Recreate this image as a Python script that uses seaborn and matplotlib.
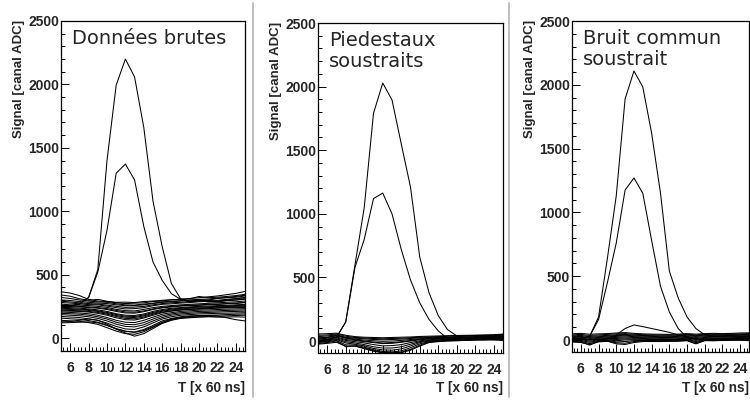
import numpy as np
import pandas as pd
import seaborn as sns
import matplotlib.pyplot as plt
from matplotlib.lines import Line2D
from matplotlib.ticker import MultipleLocator

# time samples [x 60 ns]
T = list(range(5, 26))

# --- Données brutes (raw) ---
raw_sig_a = [260, 255, 270, 320, 540, 1400, 1995, 2200, 2058, 1660, 1080, 720, 430, 310, 290, 300, 290, 290, 300, 310, 320]
raw_sig_b = [250, 250, 265, 320, 520, 850, 1300, 1372, 1246, 880, 600, 455, 350, 305, 285, 295, 285, 285, 295, 300, 310]
raw_noise = [
    [365, 355, 335, 305, 292, 288, 282, 283, 280, 288, 292, 298, 302, 306, 312, 318, 325, 332, 342, 352, 368],
    [340, 330, 310, 298, 305, 290, 278, 272, 275, 278, 288, 292, 302, 305, 310, 328, 318, 322, 328, 335, 345],
    [320, 312, 300, 292, 285, 282, 270, 262, 260, 268, 275, 285, 290, 295, 300, 305, 308, 315, 320, 328, 338],
    [300, 296, 288, 282, 276, 272, 262, 255, 256, 262, 272, 282, 286, 292, 298, 302, 300, 312, 318, 322, 332],
    [290, 285, 278, 272, 268, 260, 250, 242, 244, 250, 262, 272, 278, 282, 288, 292, 296, 298, 305, 312, 318],
    [280, 276, 270, 264, 262, 252, 240, 230, 232, 240, 255, 266, 270, 276, 280, 286, 290, 290, 296, 300, 306],
    [268, 262, 260, 256, 250, 242, 226, 216, 214, 226, 240, 250, 256, 262, 266, 270, 274, 278, 282, 286, 292],
    [258, 255, 250, 246, 240, 232, 218, 206, 204, 214, 230, 242, 250, 255, 260, 262, 266, 268, 272, 276, 282],
    [250, 248, 245, 240, 235, 225, 210, 198, 196, 208, 225, 238, 245, 252, 256, 258, 262, 265, 270, 272, 280],
    [242, 240, 236, 230, 222, 210, 192, 180, 178, 190, 210, 225, 235, 240, 246, 250, 252, 256, 258, 262, 266],
    [235, 232, 228, 224, 215, 202, 186, 172, 170, 182, 202, 218, 228, 235, 240, 244, 246, 250, 252, 256, 260],
    [228, 226, 222, 218, 210, 195, 178, 165, 162, 175, 195, 212, 222, 230, 235, 238, 240, 245, 248, 250, 255],
    [220, 218, 215, 210, 202, 188, 170, 155, 152, 166, 188, 205, 215, 224, 228, 232, 236, 240, 242, 245, 248],
    [214, 212, 210, 205, 195, 180, 160, 145, 142, 158, 180, 200, 212, 220, 225, 228, 232, 235, 238, 240, 242],
    [206, 202, 198, 192, 180, 162, 140, 125, 122, 140, 165, 188, 200, 210, 215, 220, 222, 225, 228, 230, 232],
    [196, 192, 188, 180, 168, 150, 125, 108, 105, 122, 150, 175, 190, 200, 205, 210, 212, 215, 218, 220, 222],
    [185, 180, 176, 168, 155, 135, 110, 92, 88, 105, 135, 162, 180, 190, 195, 200, 202, 205, 208, 210, 212],
    [170, 166, 162, 152, 140, 118, 92, 72, 68, 88, 120, 150, 168, 180, 185, 190, 192, 195, 196, 198, 200],
    [158, 152, 148, 138, 125, 100, 72, 52, 48, 68, 100, 135, 155, 168, 175, 178, 180, 182, 185, 188, 190],
    [140, 136, 132, 122, 108, 82, 55, 35, 30, 50, 85, 120, 145, 158, 165, 168, 170, 172, 175, 178, 180],
    [128, 130, 140, 150, 140, 110, 70, 40, 15, 35, 75, 115, 140, 155, 160, 165, 168, 165, 165, 168, 165],
    [120, 122, 125, 128, 120, 100, 75, 55, 45, 60, 90, 125, 150, 162, 170, 175, 178, 175, 160, 145, 135],
]

# --- Piedestaux soustraits ---
ped_sig_a = [0, 10, 30, 150, 600, 1050, 1790, 2028, 1895, 1550, 1210, 660, 380, 200, 90, 40, 25, 25, 25, 30, 30]
ped_sig_b = [0, 10, 30, 150, 580, 800, 1120, 1163, 1000, 720, 480, 300, 170, 80, 20, 5, 5, 10, 10, 15, 15]
ped_noise = [
    [55, 58, 62, 45, 35, 30, 28, 26, 28, 30, 32, 36, 38, 40, 42, 44, 45, 46, 48, 50, 55],
    [45, 48, 55, 38, 28, 24, 20, 18, 20, 22, 26, 30, 32, 35, 38, 40, 42, 44, 45, 46, 50],
    [35, 40, 48, 30, 22, 18, 12, 10, 12, 15, 20, 25, 28, 30, 32, 35, 38, 40, 42, 42, 45],
    [25, 30, 40, 22, 15, 8, 2, -2, 0, 5, 12, 18, 22, 25, 28, 30, 32, 35, 36, 38, 40],
    [15, 22, 32, 12, 5, -5, -12, -20, -18, -10, 0, 10, 15, 20, 22, 25, 28, 30, 32, 34, 35],
    [8, 15, 25, 5, -5, -15, -28, -38, -36, -28, -12, 2, 10, 15, 18, 20, 22, 25, 28, 30, 30],
    [0, 8, 18, -5, -15, -28, -45, -55, -55, -45, -25, -5, 5, 10, 12, 15, 18, 20, 22, 25, 25],
    [-5, 2, 12, -15, -25, -38, -58, -70, -72, -62, -38, -12, 0, 5, 8, 12, 14, 16, 18, 20, 20],
    [-12, -5, 5, -30, -32, -48, -68, -82, -85, -78, -52, -22, -5, 2, 5, 8, 10, 12, 15, 16, 15],
    [-20, -12, 0, -45, -38, -55, -75, -90, -92, -88, -65, -32, -8, 0, 2, 5, 8, 10, 12, 12, 10],
    [-25, -18, -10, -40, -40, -60, -80, -92, -94, -92, -72, -40, -12, -5, 0, 2, 5, 8, 8, 8, 5],
    [20, 28, 45, 25, 10, 0, -8, -15, -12, -5, 5, 15, 20, 25, 26, 28, 30, 32, 34, 36, 38],
]

# --- Bruit commun soustrait ---
cm_sig_a = [10, 15, 30, 180, 640, 1130, 1889, 2108, 1983, 1620, 1150, 540, 330, 180, 90, 40, 30, 30, 30, 30, 30]
cm_sig_b = [0, 5, 30, 160, 450, 760, 1175, 1270, 1150, 780, 420, 220, 90, 20, 5, 5, 10, 10, 10, 15, 15]
cm_sig_c = [0, 0, 5, 5, 10, 40, 90, 118, 105, 90, 75, 60, 40, 25, 10, 5, 5, 5, 10, 10, 10]
cm_noise = [
    [48, 52, 45, 48, 50, 55, 58, 52, 48, 46, 45, 44, 46, 50, 46, 50, 52, 50, 52, 55, 56],
    [40, 44, 36, 40, 44, 48, 50, 45, 42, 40, 38, 38, 40, 44, 40, 44, 45, 45, 46, 48, 50],
    [32, 36, 28, 32, 36, 40, 44, 38, 35, 34, 32, 32, 34, 38, 34, 38, 40, 40, 42, 42, 45],
    [26, 28, 20, 26, 30, 34, 38, 32, 30, 28, 26, 26, 28, 32, 28, 32, 34, 34, 36, 38, 40],
    [20, 22, 12, 20, 24, 28, 32, 26, 24, 22, 20, 20, 22, 26, 20, 26, 28, 28, 30, 32, 34],
    [14, 16, 5, 14, 18, 20, 24, 20, 18, 16, 14, 14, 16, 20, 12, 20, 22, 22, 24, 26, 28],
    [8, 10, -2, 8, 12, 12, 16, 14, 12, 10, 8, 8, 10, 14, 5, 14, 16, 16, 18, 20, 22],
    [2, 4, -10, 2, 6, 4, 8, 8, 6, 5, 4, 4, 6, 8, -3, 8, 10, 10, 12, 14, 16],
    [-4, -4, -18, -4, 0, -5, 0, 2, 0, 0, -2, 0, 2, 4, -12, 4, 5, 6, 8, 8, 10],
    [-8, -10, -28, -8, -4, -15, -12, -5, -4, -4, -6, -4, -2, 0, -20, 0, 0, 2, 4, 4, 5],
    [-12, -15, -40, -10, -6, -22, -25, -12, -8, -8, -10, -8, -6, -4, -28, -4, -4, -2, 0, 0, 0],
    [-15, -20, -35, -15, -10, -30, -35, -20, -12, -12, -12, -10, -10, -5, -30, -5, -6, -4, -2, -2, -5],
]

titles = ["Données brutes", "Piedestaux\nsoustraits", "Bruit commun\nsoustrait"]


def to_long(traces):
    rows = []
    for k, tr in enumerate(traces):
        for t, v in zip(T, tr):
            rows.append((k, t, v))
    return pd.DataFrame(rows, columns=["trace", "T", "signal"])


sns.set_theme(style="white")
plt.rcParams["font.family"] = ["Liberation Sans", "DejaVu Sans"]

W, H = 750, 403
fig = plt.figure(figsize=(7.5, 4.03), dpi=100)

# axes boxes in pixels: left, right, top, bottom, ymin
boxes = [(61, 245, 21, 351, -102), (318, 503, 23, 353, -94), (572, 749, 21, 352, -94)]
panels = [
    raw_noise + [raw_sig_a, raw_sig_b],
    ped_noise + [ped_sig_a, ped_sig_b],
    cm_noise + [cm_sig_a, cm_sig_b, cm_sig_c],
]

for i, ((l, r, t, b, ymin), traces) in enumerate(zip(boxes, panels)):
    ax = fig.add_axes([l / W, 1 - b / H, (r - l) / W, (b - t) / H])
    df = to_long(traces)
    sns.lineplot(data=df, x="T", y="signal", units="trace", estimator=None,
                 color="black", lw=0.75, ax=ax, legend=False)
    ax.set_xlim(5, 25)
    ax.set_ylim(ymin, 2500)
    ax.set_xticks(range(6, 25, 2))
    ax.set_yticks([0, 500, 1000, 1500, 2000, 2500])
    ax.xaxis.set_minor_locator(MultipleLocator(0.4))
    ax.yaxis.set_minor_locator(MultipleLocator(100))
    ax.tick_params(axis="both", which="both", direction="in", bottom=True, left=True,
                   top=False, right=False, color="black", width=0.7)
    ax.tick_params(axis="both", which="major", length=5.5, labelsize=10)
    ax.tick_params(axis="both", which="minor", length=2.8)
    ax.tick_params(axis="x", which="major", pad=7)
    ax.tick_params(axis="y", which="major", pad=1.5)
    for lab in ax.get_xticklabels() + ax.get_yticklabels():
        lab.set_fontweight("bold")
    for s in ax.spines.values():
        s.set_color("black")
        s.set_linewidth(0.9)
    ax.set_xlabel("")
    ax.set_ylabel("")
    ax.text(1.0, (b - 388) / (b - t), "T [x 60 ns]", transform=ax.transAxes,
            ha="right", va="center", fontsize=9.8, fontweight="bold")
    fig.text((l - 42) / W, 1 - (t - 1) / H, "Signal [canal ADC]", rotation=90,
             ha="center", va="top", fontsize=9.5, fontweight="bold")
    fig.text((l + 11) / W, 1 - (t + 8) / H, titles[i], ha="left", va="top",
             fontsize=14, family="DejaVu Sans", linespacing=1.15)

# grey separators between the three pictures
for xs in (253, 509):
    fig.add_artist(Line2D([xs / W, xs / W], [1 - 3 / H, 1 - 397 / H],
                          color="#b4b4b4", lw=1.2))

fig.savefig("out.png", dpi=100)
